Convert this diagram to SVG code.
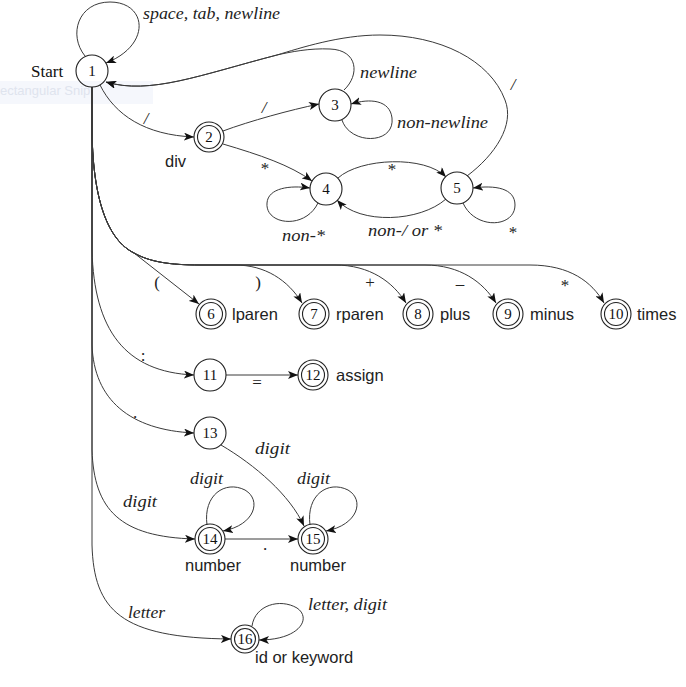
<svg xmlns="http://www.w3.org/2000/svg" width="686" height="687" viewBox="0 0 686 687">
<style>
.bg{fill:#ffffff}
.edge{fill:none;stroke:#3a3a3a;stroke-width:1}
.st{fill:none;stroke:#222;stroke-width:1.1}
.num{font-family:"Liberation Serif",serif;font-size:15px;fill:#111;text-anchor:middle}
.start{font-family:"Liberation Serif",serif;font-size:17px;fill:#111}
.lab{font-family:"Liberation Serif",serif;font-style:italic;font-size:16px;fill:#222}
.sym{font-family:"Liberation Serif",serif;font-size:17px;fill:#222;text-anchor:middle}
.it{font-style:italic}
.tok{font-family:"Liberation Sans",Arial,sans-serif;font-size:16.5px;fill:#222}
.snip{font-family:"Liberation Sans",Arial,sans-serif;font-size:13px;fill:#dfe4ee}
</style>
<defs>
<marker id="arr" viewBox="0 0 10 8" markerWidth="10" markerHeight="8" refX="10" refY="4" orient="auto" markerUnits="userSpaceOnUse">
<path d="M0,0 L10,4 L0,8 L2.5,4 z" fill="#111"/>
</marker>
</defs>
<rect class="bg" x="0" y="0" width="686" height="687"/>
<g id="snip-artifact">
<rect x="0" y="81" width="153" height="23" fill="#f5f7fc"/>
<text class="snip" x="0" y="95">ectangular Snip</text>
</g>

<g id="connectors">
<path class="edge" marker-end="url(#arr)" d="M85,56 C68,35 78,2 110,2 C147,2 152,45 106,63"/>
<path class="edge" marker-end="url(#arr)" d="M100,85 C115,115 145,135 194,137"/>
<path class="edge" marker-end="url(#arr)" d="M223,131 C250,121 290,110 319,104"/>
<path class="edge" marker-end="url(#arr)" d="M223,144 C260,155 290,165 312,181"/>
<path class="edge" marker-end="url(#arr)" d="M342,120 C350,145 395,145 392,118 C390,100 370,98 351,104"/>
<path class="edge" marker-end="url(#arr)" d="M344,90 C360,75 358,50 330,49 C310,48 290,52 277,55 C200,75 150,95 106,82"/>
<path class="edge" marker-end="url(#arr)" d="M467,176 C495,155 515,125 505,100 C490,60 440,35 380,35 C340,35 300,48 277,55 C200,75 150,95 106,82"/>
<path class="edge" marker-end="url(#arr)" d="M338,178 C360,158 425,155 446,177"/>
<path class="edge" marker-end="url(#arr)" d="M446,199 C420,222 360,225 337,200"/>
<path class="edge" marker-end="url(#arr)" d="M318,203 C305,230 265,225 267,203 C268,188 290,185 310,188"/>
<path class="edge" marker-end="url(#arr)" d="M463,203 C475,230 515,228 515,205 C515,188 495,185 473,188"/>

<path class="edge" marker-end="url(#arr)" d="M92,87 L92,125 C92,200 108,240 134,253 L199,304"/>
<path class="edge" marker-end="url(#arr)" d="M92,87 L92,125 C92,200 108,240 134,253 C150,262 170,265 200,265 L235,265 C265,265 288,280 302,303"/>
<path class="edge" marker-end="url(#arr)" d="M92,87 L92,125 C92,200 108,240 134,253 C150,262 170,265 200,265 L335,265 C370,265 393,282 406,303"/>
<path class="edge" marker-end="url(#arr)" d="M92,87 L92,125 C92,200 108,240 134,253 C150,262 170,265 200,265 L425,265 C460,265 483,282 496,303"/>
<path class="edge" marker-end="url(#arr)" d="M92,87 L92,125 C92,200 108,240 134,253 C150,262 170,265 200,265 L530,265 C570,265 592,282 604,303"/>

<path class="edge" marker-end="url(#arr)" d="M92,87 L92,250 C94,330 125,372 194,375"/>
<path class="edge" marker-end="url(#arr)" d="M226,375 L298,375"/>
<path class="edge" marker-end="url(#arr)" d="M92,87 L92,345 C94,400 130,430 194,433"/>
<path class="edge" marker-end="url(#arr)" d="M221,445 C255,465 290,495 304,526"/>
<path class="edge" marker-end="url(#arr)" d="M92,87 L92,450 C94,510 120,537 195,539"/>
<path class="edge" marker-end="url(#arr)" d="M225,539 L298,539"/>
<path class="edge" marker-end="url(#arr)" d="M207,525 C203,495 225,480 245,490 C262,500 255,525 223,531"/>
<path class="edge" marker-end="url(#arr)" d="M310,525 C306,495 328,480 348,490 C365,500 358,525 326,531"/>
<path class="edge" marker-end="url(#arr)" d="M92,87 L92,545 C94,610 120,638 231,639"/>
<path class="edge" marker-end="url(#arr)" d="M252,626 C255,605 280,598 297,608 C312,618 300,640 259,640"/>
</g>

<g id="edge-labels">
<text class="lab" x="143" y="19" textLength="137" lengthAdjust="spacingAndGlyphs">space, tab, newline</text>
<text class="sym it" x="146" y="124">/</text>
<text class="sym it" x="264" y="113">/</text>
<text class="sym" x="265" y="174">*</text>
<text class="lab" x="360" y="78" textLength="57" lengthAdjust="spacingAndGlyphs">newline</text>
<text class="lab" x="397" y="128" textLength="91" lengthAdjust="spacingAndGlyphs">non-newline</text>
<text class="sym it" x="513" y="90">/</text>
<text class="sym" x="392" y="175">*</text>
<text class="lab" x="282" y="241" textLength="43" lengthAdjust="spacingAndGlyphs">non-*</text>
<text class="lab" x="368" y="236" textLength="74" lengthAdjust="spacingAndGlyphs">non-/ or *</text>
<text class="sym" x="513" y="238">*</text>
<text class="sym" x="157" y="288">(</text>
<text class="sym" x="258" y="288">)</text>
<text class="sym" x="370" y="288">+</text>
<text class="sym" x="460" y="289">–</text>
<text class="sym" x="565" y="291">*</text>
<text class="sym" x="143" y="361">:</text>
<text class="sym" x="257" y="388">=</text>
<text class="sym" x="135" y="418">.</text>
<text class="lab" x="255" y="454" textLength="35" lengthAdjust="spacingAndGlyphs">digit</text>
<text class="lab" x="190" y="484" textLength="33" lengthAdjust="spacingAndGlyphs">digit</text>
<text class="lab" x="297" y="484" textLength="33" lengthAdjust="spacingAndGlyphs">digit</text>
<text class="lab" x="123" y="507" textLength="34" lengthAdjust="spacingAndGlyphs">digit</text>
<text class="sym" x="265" y="550">.</text>
<text class="lab" x="128" y="618" textLength="37" lengthAdjust="spacingAndGlyphs">letter</text>
<text class="lab" x="308" y="610" textLength="79" lengthAdjust="spacingAndGlyphs">letter, digit</text>
</g>

<g id="n1"><circle class="st" cx="92" cy="71" r="16"/><text class="num" x="92" y="76">1</text><text class="start" x="31" y="77">Start</text></g>
<g id="n2"><circle class="st" cx="209" cy="137" r="15"/><circle class="st" cx="209" cy="137" r="11.5"/><text class="num" x="209" y="142">2</text><text class="tok" x="165" y="167">div</text></g>
<g id="n3"><circle class="st" cx="335" cy="105" r="16"/><text class="num" x="335" y="110">3</text></g>
<g id="n4"><circle class="st" cx="326" cy="189" r="16"/><text class="num" x="326" y="194">4</text></g>
<g id="n5"><circle class="st" cx="457" cy="188" r="16"/><text class="num" x="457" y="193">5</text></g>
<g id="n6"><circle class="st" cx="211" cy="314" r="15"/><circle class="st" cx="211" cy="314" r="11.5"/><text class="num" x="211" y="319">6</text><text class="tok" x="232" y="320">lparen</text></g>
<g id="n7"><circle class="st" cx="314" cy="314" r="15"/><circle class="st" cx="314" cy="314" r="11.5"/><text class="num" x="314" y="319">7</text><text class="tok" x="336" y="320">rparen</text></g>
<g id="n8"><circle class="st" cx="418" cy="314" r="15"/><circle class="st" cx="418" cy="314" r="11.5"/><text class="num" x="418" y="319">8</text><text class="tok" x="440" y="320">plus</text></g>
<g id="n9"><circle class="st" cx="508" cy="314" r="15"/><circle class="st" cx="508" cy="314" r="11.5"/><text class="num" x="508" y="319">9</text><text class="tok" x="530" y="320">minus</text></g>
<g id="n10"><circle class="st" cx="616" cy="314" r="15"/><circle class="st" cx="616" cy="314" r="11.5"/><text class="num" x="616" y="319">10</text><text class="tok" x="637" y="320">times</text></g>
<g id="n11"><circle class="st" cx="210" cy="375" r="16"/><text class="num" x="210" y="380">11</text></g>
<g id="n12"><circle class="st" cx="313" cy="375" r="15"/><circle class="st" cx="313" cy="375" r="11.5"/><text class="num" x="313" y="380">12</text><text class="tok" x="336" y="381">assign</text></g>
<g id="n13"><circle class="st" cx="210" cy="433" r="16"/><text class="num" x="210" y="438">13</text></g>
<g id="n14"><circle class="st" cx="210" cy="539" r="15"/><circle class="st" cx="210" cy="539" r="11.5"/><text class="num" x="210" y="544">14</text><text class="tok" x="185" y="571">number</text></g>
<g id="n15"><circle class="st" cx="313" cy="539" r="15"/><circle class="st" cx="313" cy="539" r="11.5"/><text class="num" x="313" y="544">15</text><text class="tok" x="290" y="571">number</text></g>
<g id="n16"><circle class="st" cx="245" cy="639" r="14"/><circle class="st" cx="245" cy="639" r="10.5"/><text class="num" x="245" y="644">16</text><text class="tok" x="255" y="663">id or keyword</text></g>
</svg>
